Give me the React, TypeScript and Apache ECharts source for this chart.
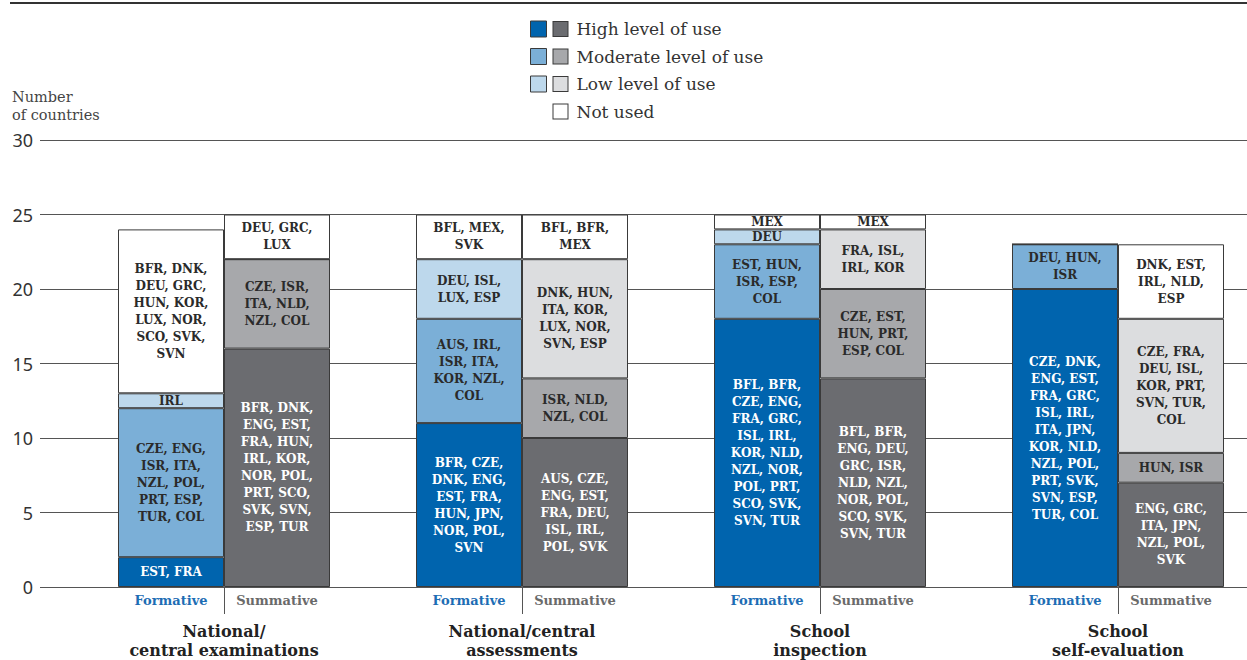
import React, { useEffect, useRef } from "react";
import * as echarts from "echarts";

const groups = [
  "National/\ncentral examinations",
  "National/central\nassessments",
  "School\ninspection",
  "School\nself-evaluation",
];
const levels = ["High level of use", "Moderate level of use", "Low level of use", "Not used"];
const yTicks = [0, 5, 10, 15, 20, 25, 30];

// Formative
const formativeHigh = [2, 11, 18, 20];
const formativeModerate = [10, 7, 5, 3];
const formativeLow = [1, 4, 1, 0];
const formativeNotUsed = [11, 3, 1, 0];
// Summative
const summativeHigh = [16, 10, 14, 7];
const summativeModerate = [6, 4, 6, 2];
const summativeLow = [0, 8, 4, 9];
const summativeNotUsed = [3, 3, 1, 5];

const formativeHighCountries = [
  ["EST", "FRA"],
  ["BFR", "CZE", "DNK", "ENG", "EST", "FRA", "HUN", "JPN", "NOR", "POL", "SVN"],
  ["BFL", "BFR", "CZE", "ENG", "FRA", "GRC", "ISL", "IRL", "KOR", "NLD", "NZL", "NOR", "POL", "PRT", "SCO", "SVK", "SVN", "TUR"],
  ["CZE", "DNK", "ENG", "EST", "FRA", "GRC", "ISL", "IRL", "ITA", "JPN", "KOR", "NLD", "NZL", "POL", "PRT", "SVK", "SVN", "ESP", "TUR", "COL"],
];
const formativeModerateCountries = [
  ["CZE", "ENG", "ISR", "ITA", "NZL", "POL", "PRT", "ESP", "TUR", "COL"],
  ["AUS", "IRL", "ISR", "ITA", "KOR", "NZL", "COL"],
  ["EST", "HUN", "ISR", "ESP", "COL"],
  ["DEU", "HUN", "ISR"],
];
const formativeLowCountries = [["IRL"], ["DEU", "ISL", "LUX", "ESP"], ["DEU"], []];
const formativeNotUsedCountries = [
  ["BFR", "DNK", "DEU", "GRC", "HUN", "KOR", "LUX", "NOR", "SCO", "SVK", "SVN"],
  ["BFL", "MEX", "SVK"],
  ["MEX"],
  [],
];
const summativeHighCountries = [
  ["BFR", "DNK", "ENG", "EST", "FRA", "HUN", "IRL", "KOR", "NOR", "POL", "PRT", "SCO", "SVK", "SVN", "ESP", "TUR"],
  ["AUS", "CZE", "ENG", "EST", "FRA", "DEU", "ISL", "IRL", "POL", "SVK"],
  ["BFL", "BFR", "ENG", "DEU", "GRC", "ISR", "NLD", "NZL", "NOR", "POL", "SCO", "SVK", "SVN", "TUR"],
  ["ENG", "GRC", "ITA", "JPN", "NZL", "POL", "SVK"],
];
const summativeModerateCountries = [
  ["CZE", "ISR", "ITA", "NLD", "NZL", "COL"],
  ["ISR", "NLD", "NZL", "COL"],
  ["CZE", "EST", "HUN", "PRT", "ESP", "COL"],
  ["HUN", "ISR"],
];
const summativeLowCountries = [
  [],
  ["DNK", "HUN", "ITA", "KOR", "LUX", "NOR", "SVN", "ESP"],
  ["FRA", "ISL", "IRL", "KOR"],
  ["CZE", "FRA", "DEU", "ISL", "KOR", "PRT", "SVN", "TUR", "COL"],
];
const summativeNotUsedCountries = [
  ["DEU", "GRC", "LUX"],
  ["BFL", "BFR", "MEX"],
  ["MEX"],
  ["DNK", "EST", "IRL", "NLD", "ESP"],
];

const formativeColors = ["#0064ae", "#7bafd7", "#bdd8ec", "#ffffff"];
const summativeColors = ["#6b6c70", "#a7a8ab", "#dcdddf", "#ffffff"];
const labelColors = ["#ffffff", "#2a2a2a", "#2a2a2a", "#2a2a2a"];

const SERIF = "DejaVu Serif";
const BORDER = "#3a3a3a";
const EXTRA = 24; // chart canvas extends past the visible page on the right

function formatCountries(list: string[]): string {
  const lines: string[] = [];
  for (let i = 0; i < list.length; i += 2) lines.push(list.slice(i, i + 2).join(", "));
  return lines.join(",\n");
}

export default function App() {
  const ref = useRef<HTMLDivElement>(null);

  useEffect(() => {
    document.body.style.margin = "0";
    const chart = echarts.init(ref.current!, null, { renderer: "svg" });

    const fValues = [formativeHigh, formativeModerate, formativeLow, formativeNotUsed];
    const sValues = [summativeHigh, summativeModerate, summativeLow, summativeNotUsed];
    const fCountries = [formativeHighCountries, formativeModerateCountries, formativeLowCountries, formativeNotUsedCountries];
    const sCountries = [summativeHighCountries, summativeModerateCountries, summativeLowCountries, summativeNotUsedCountries];

    const makeSeries = (kind: "f" | "s") =>
      levels.map((lv, li) => {
        const vals = kind === "f" ? fValues[li] : sValues[li];
        const ctry = kind === "f" ? fCountries[li] : sCountries[li];
        const color = kind === "f" ? formativeColors[li] : summativeColors[li];
        return {
          name: kind === "f" ? lv : lv + " (summative)",
          type: "bar",
          stack: kind,
          xAxisIndex: 0,
          yAxisIndex: 1,
          barWidth: 106,
          barGap: "0%",
          data: vals,
          itemStyle: { color, borderColor: BORDER, borderWidth: 1 },
          label: {
            show: true,
            position: "inside",
            formatter: (p: any) => (vals[p.dataIndex] > 0 ? formatCountries(ctry[p.dataIndex]) : ""),
            color: labelColors[li],
            fontFamily: SERIF,
            fontWeight: "bold",
            fontSize: 12,
            lineHeight: 17,
          },
          emphasis: { disabled: true },
        };
      });

    const legendRich: any = {
      t: { fontFamily: SERIF, fontSize: 17, fontWeight: "normal", color: "#333", padding: [0, 0, 0, 9], lineHeight: 20 },
      sp: { width: 2, height: 16 },
    };
    levels.forEach((_, i) => {
      legendRich["b" + i] = {
        width: 14,
        height: 14,
        backgroundColor: summativeColors[i],
        borderColor: BORDER,
        borderWidth: 1,
      };
    });

    const option: any = {
      animation: false,
      textStyle: { fontFamily: SERIF },
      title: {
        text: "Number\nof countries",
        left: 12,
        top: 88,
        padding: 0,
        textStyle: { fontFamily: SERIF, fontSize: 14.5, fontWeight: "normal", color: "#444", lineHeight: 18 },
      },
      legend: {
        orient: "vertical",
        left: 530,
        top: 19,
        padding: 0,
        itemWidth: 16,
        itemHeight: 16,
        itemGap: 7.5,
        selectedMode: false,
        itemStyle: { borderColor: BORDER, borderWidth: 1 },
        data: levels.map((lv, i) => (i === 3 ? { name: lv, icon: "none" } : { name: lv, icon: "rect" })),
        formatter: (name: string) => {
          const i = levels.indexOf(name);
          return `{sp|}{b${i}|}{t|${name}}`;
        },
        textStyle: { fontFamily: SERIF, fontSize: 17, color: "#333", lineHeight: 20, rich: legendRich },
      },
      graphic: [
        {
          type: "line",
          shape: { x1: 10, y1: 3, x2: 1247 + EXTRA, y2: 3 },
          style: { stroke: "#333", lineWidth: 2 },
        },
      ],
      grid: [
        { left: 40, right: 0, top: 140, height: 447 },
        { left: 75, width: 1192, top: 140, height: 447 },
      ],
      xAxis: [
        {
          type: "category",
          gridIndex: 1,
          data: groups,
          position: "bottom",
          axisLine: { show: false },
          axisTick: { show: true, alignWithLabel: true, length: 27, lineStyle: { color: "#555", width: 1 } },
          axisLabel: {
            interval: 0,
            margin: 7,
            formatter: () => "{f|Formative}{s|Summative}",
            rich: {
              f: { width: 106, align: "center", color: "#1d6db4", fontWeight: "bold", fontSize: 13, fontFamily: SERIF },
              s: { width: 106, align: "center", color: "#6a6a6a", fontWeight: "bold", fontSize: 13, fontFamily: SERIF },
            },
          },
          splitLine: { show: false },
        },
        {
          type: "category",
          gridIndex: 1,
          data: groups,
          position: "bottom",
          offset: 0,
          axisLine: { show: false },
          axisTick: { show: false },
          axisLabel: {
            interval: 0,
            margin: 35,
            color: "#222",
            fontFamily: SERIF,
            fontWeight: "bold",
            fontSize: 16,
            lineHeight: 19,
          },
          splitLine: { show: false },
        },
        { type: "value", gridIndex: 0, show: false, min: 0, max: 1 },
      ],
      yAxis: [
        {
          type: "value",
          gridIndex: 0,
          min: 0,
          max: 30,
          interval: 5,
          axisLine: { show: false },
          axisTick: { show: false },
          axisLabel: {
            margin: 7,
            color: "#333",
            fontFamily: "Noto Sans",
            fontSize: 18,
            formatter: (v: number) => (yTicks.includes(v) ? String(v) : ""),
          },
          splitLine: { show: true, lineStyle: { color: "#555", width: 1 } },
        },
        { type: "value", gridIndex: 1, min: 0, max: 30, interval: 5, show: false, splitLine: { show: false } },
      ],
      series: [...makeSeries("f"), ...makeSeries("s")],
    };

    chart.setOption(option);
    return () => chart.dispose();
  }, []);

  return (
    <div style={{ width: 1247, height: 660, overflow: "hidden" }}>
      <div ref={ref} style={{ width: 1247 + EXTRA, height: 660 }} />
    </div>
  );
}
